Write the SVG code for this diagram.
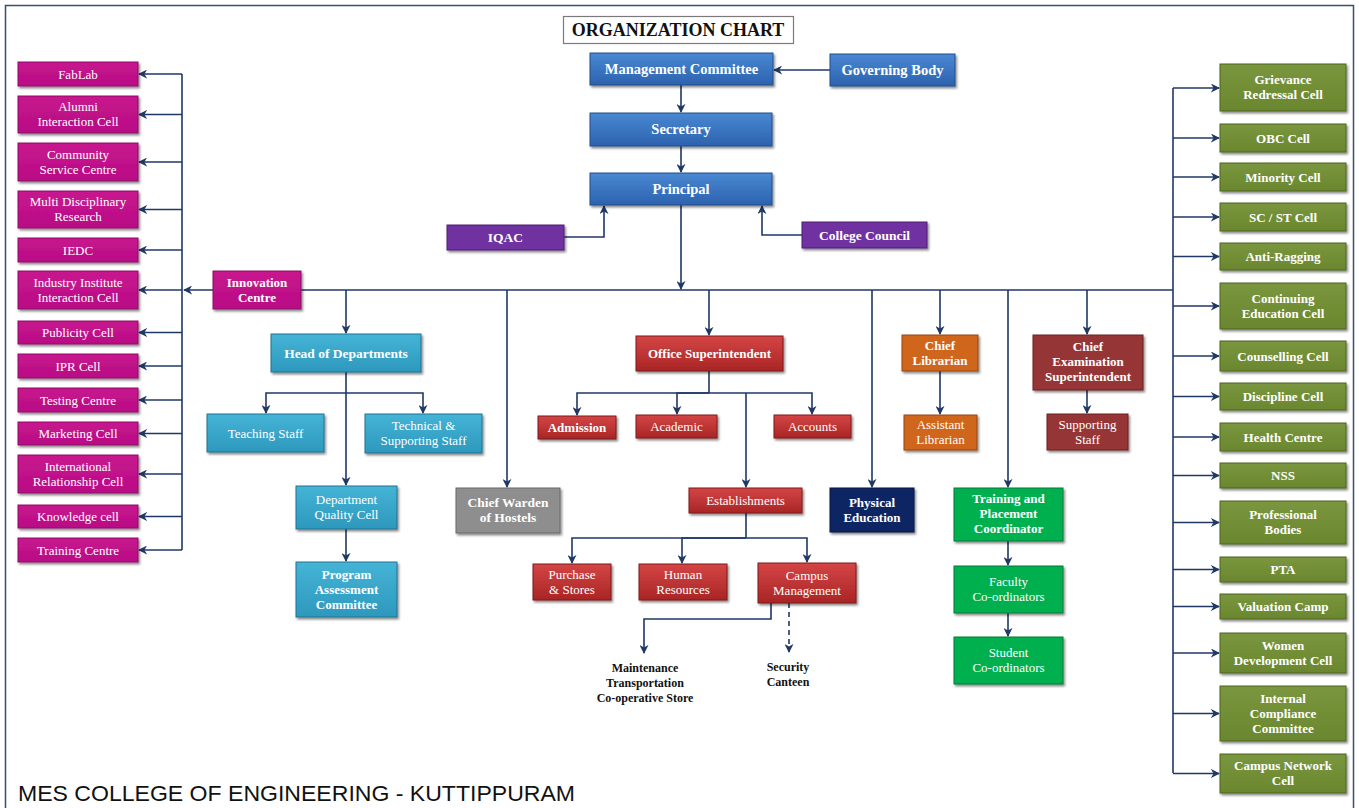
<svg xmlns="http://www.w3.org/2000/svg" width="1359" height="808" viewBox="0 0 1359 808">
<style>
.t{font-family:"Liberation Serif","Times New Roman",serif;fill:#fff;text-anchor:middle;font-size:13px}
.b{font-weight:bold}
.k{fill:#111}
.s13{font-size:13.5px}
.s14{font-size:14.5px}
.s17{font-size:18px}
.s115{font-size:12px}
.c{fill:none;stroke:#1F3864;stroke-width:1.6}
.a{marker-end:url(#ah)}
.d{stroke-dasharray:5,4}
rect.n{filter:url(#sh);stroke-width:1}
.blue{fill:url(#gBlue);stroke:#1E4E8C}
.mag{fill:url(#gMag);stroke:#8E0F66}
.pur{fill:#7030A0;stroke:#4E1E75}
.cyan{fill:url(#gCyan);stroke:#1F7391}
.red{fill:url(#gRed);stroke:#7E1B1B}
.gray{fill:#8E8E8E;stroke:#6A6A6A}
.navy{fill:#0E2564;stroke:#061540}
.orng{fill:#D0651B;stroke:#93460F}
.dred{fill:#963634;stroke:#6A2220}
.grn{fill:#00B050;stroke:#007A37}
.olv{fill:url(#gOlv);stroke:#4D6420}
</style>
<defs>
<filter id="sh" x="-10%" y="-10%" width="130%" height="140%"><feDropShadow dx="1.5" dy="2" stdDeviation="1.2" flood-color="#000" flood-opacity="0.45"/></filter>
<marker id="ah" viewBox="0 0 10 10" refX="9" refY="5" markerWidth="9" markerHeight="9" markerUnits="userSpaceOnUse" orient="auto"><path d="M0,0 L10,5 L0,10 L3,5 z" fill="#1F3864"/></marker>
<linearGradient id="gBlue" x1="0" y1="0" x2="0" y2="1"><stop offset="0" stop-color="#4A88D2"/><stop offset="1" stop-color="#2C62AE"/></linearGradient>
<linearGradient id="gMag" x1="0" y1="0" x2="0" y2="1"><stop offset="0" stop-color="#C8148E"/><stop offset="1" stop-color="#B80F85"/></linearGradient>
<linearGradient id="gCyan" x1="0" y1="0" x2="0" y2="1"><stop offset="0" stop-color="#45B4D6"/><stop offset="1" stop-color="#2D98BD"/></linearGradient>
<linearGradient id="gRed" x1="0" y1="0" x2="0" y2="1"><stop offset="0" stop-color="#D44545"/><stop offset="1" stop-color="#A92525"/></linearGradient>
<linearGradient id="gOlv" x1="0" y1="0" x2="0" y2="1"><stop offset="0" stop-color="#7A963E"/><stop offset="1" stop-color="#6A872F"/></linearGradient>
</defs>
<rect x="0" y="0" width="1359" height="808" fill="#fff"/>
<rect x="5.5" y="5.5" width="1348" height="812" fill="none" stroke="#3A4E6E" stroke-width="1.5"/>

<g id="connectors">
<path class="c a" d="M830,70 H774"/>
<path class="c a" d="M681,85 V112"/>
<path class="c a" d="M681,146 V172"/>
<path class="c a" d="M564,237 H604 V206"/>
<path class="c a" d="M802,235 H762 V206"/>
<path class="c a" d="M681,205 V289"/>
<path class="c a" d="M1173,290 H184"/>
<path class="c" d="M182,74 V550"/>
<path class="c" d="M1173,88 V773"/>
<path class="c a" d="M182,74 H139"/>
<path class="c a" d="M182,114.5 H139"/>
<path class="c a" d="M182,162 H139"/>
<path class="c a" d="M182,209.5 H139"/>
<path class="c a" d="M182,250 H139"/>
<path class="c a" d="M182,290 H139"/>
<path class="c a" d="M182,332.5 H139"/>
<path class="c a" d="M182,366 H139"/>
<path class="c a" d="M182,400 H139"/>
<path class="c a" d="M182,433.5 H139"/>
<path class="c a" d="M182,474 H139"/>
<path class="c a" d="M182,516.5 H139"/>
<path class="c a" d="M182,550 H139"/>
<path class="c a" d="M1173,88 H1219"/>
<path class="c a" d="M1173,138 H1219"/>
<path class="c a" d="M1173,177 H1219"/>
<path class="c a" d="M1173,217 H1219"/>
<path class="c a" d="M1173,256.5 H1219"/>
<path class="c a" d="M1173,306 H1219"/>
<path class="c a" d="M1173,356 H1219"/>
<path class="c a" d="M1173,396.5 H1219"/>
<path class="c a" d="M1173,437 H1219"/>
<path class="c a" d="M1173,475.5 H1219"/>
<path class="c a" d="M1173,522.5 H1219"/>
<path class="c a" d="M1173,569.5 H1219"/>
<path class="c a" d="M1173,606.5 H1219"/>
<path class="c a" d="M1173,653 H1219"/>
<path class="c a" d="M1173,713.5 H1219"/>
<path class="c a" d="M1173,773.5 H1219"/>
<path class="c a" d="M346,290 V333"/>
<path class="c a" d="M507,290 V487"/>
<path class="c a" d="M709,290 V335"/>
<path class="c a" d="M872,290 V487"/>
<path class="c a" d="M940,290 V334"/>
<path class="c a" d="M1008,290 V487"/>
<path class="c a" d="M1087,290 V334"/>
<path class="c a" d="M346,372 V485"/>
<path class="c a" d="M346,393 H266 V413"/>
<path class="c a" d="M346,393 H423 V413"/>
<path class="c a" d="M346,529 V561"/>
<path class="c" d="M709,371 V393"/>
<path class="c a" d="M709,393 H577 V415"/>
<path class="c a" d="M709,393 H677 V414"/>
<path class="c a" d="M709,393 H812 V414"/>
<path class="c a" d="M746,393 V487"/>
<path class="c" d="M746,513 V538"/>
<path class="c a" d="M746,538 H572 V563"/>
<path class="c a" d="M746,538 H682 V563"/>
<path class="c a" d="M746,538 H807 V562"/>
<path class="c a" d="M771,603 V619 H644 V653"/>
<path class="c a d" d="M789,603 V652"/>
<path class="c a" d="M940,371 V414"/>
<path class="c a" d="M1087,390 V413"/>
<path class="c a" d="M1008,541 V565"/>
<path class="c a" d="M1008,613 V636"/>
</g>

<g id="title"><rect x="563.5" y="16.5" width="230" height="27" fill="#fff" stroke="#7A7A7A" stroke-width="1.2"/><text class="t b k s17" x="678" y="36">ORGANIZATION CHART</text></g>

<g id="management"><rect class="n blue" x="590" y="53" width="183" height="32"/><text class="t b s14" x="681.5" y="74">Management Committee</text></g>
<g id="governing"><rect class="n blue" x="830" y="54" width="125" height="32"/><text class="t b s14" x="892.5" y="75">Governing Body</text></g>
<g id="secretary"><rect class="n blue" x="590" y="113" width="182" height="33"/><text class="t b s14" x="681" y="134">Secretary</text></g>
<g id="principal"><rect class="n blue" x="590" y="173" width="182" height="32"/><text class="t b s14" x="681" y="194">Principal</text></g>
<g id="iqac"><rect class="n pur" x="447" y="225" width="117" height="25"/><text class="t b s13" x="505.5" y="242">IQAC</text></g>
<g id="council"><rect class="n pur" x="802" y="222" width="125" height="26"/><text class="t b s13" x="864.5" y="240">College Council</text></g>

<g id="innovation"><rect class="n mag" x="213" y="271" width="88" height="38"/><text class="t b" x="257" y="286.5"><tspan x="257">Innovation</tspan><tspan x="257" y="301.5">Centre</tspan></text></g>

<g id="left-cells">
<g id="fablab"><rect class="n mag" x="18" y="62" width="120" height="24"/><text class="t" x="78" y="78.5">FabLab</text></g>
<g id="alumni"><rect class="n mag" x="18" y="96" width="120" height="37"/><text class="t" x="78" y="111"><tspan x="78">Alumni</tspan><tspan x="78" y="126">Interaction Cell</tspan></text></g>
<g id="community"><rect class="n mag" x="18" y="143" width="120" height="38"/><text class="t" x="78" y="158.5"><tspan x="78">Community</tspan><tspan x="78" y="173.5">Service Centre</tspan></text></g>
<g id="multi"><rect class="n mag" x="18" y="191" width="120" height="37"/><text class="t" x="78" y="206"><tspan x="78">Multi Disciplinary</tspan><tspan x="78" y="221">Research</tspan></text></g>
<g id="iedc"><rect class="n mag" x="18" y="238" width="120" height="24"/><text class="t" x="78" y="254.5">IEDC</text></g>
<g id="industry"><rect class="n mag" x="18" y="271" width="120" height="38"/><text class="t" x="78" y="286.5"><tspan x="78">Industry Institute</tspan><tspan x="78" y="301.5">Interaction Cell</tspan></text></g>
<g id="publicity"><rect class="n mag" x="18" y="321" width="120" height="23"/><text class="t" x="78" y="337">Publicity Cell</text></g>
<g id="ipr"><rect class="n mag" x="18" y="354" width="120" height="24"/><text class="t" x="78" y="370.5">IPR Cell</text></g>
<g id="testing"><rect class="n mag" x="18" y="388" width="120" height="24"/><text class="t" x="78" y="404.5">Testing Centre</text></g>
<g id="marketing"><rect class="n mag" x="18" y="422" width="120" height="23"/><text class="t" x="78" y="438">Marketing Cell</text></g>
<g id="international"><rect class="n mag" x="18" y="455" width="120" height="38"/><text class="t" x="78" y="470.5"><tspan x="78">International</tspan><tspan x="78" y="485.5">Relationship Cell</tspan></text></g>
<g id="knowledge"><rect class="n mag" x="18" y="505" width="120" height="23"/><text class="t" x="78" y="521">Knowledge cell</text></g>
<g id="trainingcentre"><rect class="n mag" x="18" y="538" width="120" height="24"/><text class="t" x="78" y="554.5">Training Centre</text></g>
</g>

<g id="hod"><rect class="n cyan" x="271" y="334" width="150" height="38"/><text class="t b s13" x="346" y="357.5">Head of  Departments</text></g>
<g id="teaching"><rect class="n cyan" x="207" y="414" width="117" height="38"/><text class="t" x="265.5" y="437.5">Teaching Staff</text></g>
<g id="technical"><rect class="n cyan" x="365" y="414" width="117" height="39"/><text class="t" x="423.5" y="430"><tspan x="423.5">Technical &amp;</tspan><tspan x="423.5" y="445">Supporting Staff</tspan></text></g>
<g id="dqc"><rect class="n cyan" x="296" y="486" width="101" height="43"/><text class="t" x="346.5" y="504"><tspan x="346.5">Department</tspan><tspan x="346.5" y="519">Quality Cell</tspan></text></g>
<g id="pac"><rect class="n cyan" x="296" y="562" width="101" height="55"/><text class="t b" x="346.5" y="578.5"><tspan x="346.5">Program</tspan><tspan x="346.5" y="593.5">Assessment</tspan><tspan x="346.5" y="608.5">Committee</tspan></text></g>

<g id="warden"><rect class="n gray" x="456" y="488" width="104" height="45"/><text class="t b s13" x="508" y="507"><tspan x="508">Chief  Warden</tspan><tspan x="508" y="522">of Hostels</tspan></text></g>

<g id="office"><rect class="n red" x="636" y="336" width="147" height="35"/><text class="t b" x="709.5" y="358">Office Superintendent</text></g>
<g id="admission"><rect class="n red" x="538" y="416" width="78" height="23"/><text class="t b" x="577" y="432">Admission</text></g>
<g id="academic"><rect class="n red" x="636" y="415" width="81" height="23"/><text class="t" x="676.5" y="431">Academic</text></g>
<g id="accounts"><rect class="n red" x="774" y="415" width="77" height="23"/><text class="t" x="812.5" y="431">Accounts</text></g>
<g id="establishments"><rect class="n red" x="689" y="488" width="113" height="25"/><text class="t" x="745.5" y="505">Establishments</text></g>
<g id="purchase"><rect class="n red" x="533" y="564" width="78" height="36"/><text class="t" x="572" y="578.5"><tspan x="572">Purchase</tspan><tspan x="572" y="593.5">&amp; Stores</tspan></text></g>
<g id="hr"><rect class="n red" x="639" y="564" width="88" height="36"/><text class="t" x="683" y="578.5"><tspan x="683">Human</tspan><tspan x="683" y="593.5">Resources</tspan></text></g>
<g id="campus"><rect class="n red" x="758" y="563" width="98" height="40"/><text class="t" x="807" y="579.5"><tspan x="807">Campus</tspan><tspan x="807" y="594.5">Management</tspan></text></g>
<g id="maintenance"><text class="t b k s115" x="645" y="672"><tspan x="645">Maintenance</tspan><tspan x="645" y="687">Transportation</tspan><tspan x="645" y="702">Co-operative Store</tspan></text></g>
<g id="security"><text class="t b k s115" x="788" y="671"><tspan x="788">Security</tspan><tspan x="788" y="686">Canteen</tspan></text></g>

<g id="physical"><rect class="n navy" x="830" y="488" width="84" height="44"/><text class="t b" x="872" y="506.5"><tspan x="872">Physical</tspan><tspan x="872" y="521.5">Education</tspan></text></g>
<g id="chieflib"><rect class="n orng" x="902" y="335" width="76" height="36"/><text class="t b" x="940" y="349.5"><tspan x="940">Chief</tspan><tspan x="940" y="364.5">Librarian</tspan></text></g>
<g id="asstlib"><rect class="n orng" x="904" y="415" width="73" height="35"/><text class="t" x="940.5" y="429"><tspan x="940.5">Assistant</tspan><tspan x="940.5" y="444">Librarian</tspan></text></g>
<g id="training"><rect class="n grn" x="954" y="488" width="109" height="53"/><text class="t b" x="1008.5" y="503"><tspan x="1008.5">Training and</tspan><tspan x="1008.5" y="518">Placement</tspan><tspan x="1008.5" y="533">Coordinator</tspan></text></g>
<g id="faculty"><rect class="n grn" x="954" y="566" width="109" height="47"/><text class="t" x="1008.5" y="586"><tspan x="1008.5">Faculty</tspan><tspan x="1008.5" y="601">Co-ordinators</tspan></text></g>
<g id="student"><rect class="n grn" x="954" y="637" width="109" height="47"/><text class="t" x="1008.5" y="657"><tspan x="1008.5">Student</tspan><tspan x="1008.5" y="672">Co-ordinators</tspan></text></g>
<g id="chiefexam"><rect class="n dred" x="1033" y="335" width="110" height="55"/><text class="t b" x="1088" y="351"><tspan x="1088">Chief</tspan><tspan x="1088" y="366">Examination</tspan><tspan x="1088" y="381">Superintendent</tspan></text></g>
<g id="supporting"><rect class="n dred" x="1047" y="414" width="81" height="36"/><text class="t" x="1087.5" y="428.5"><tspan x="1087.5">Supporting</tspan><tspan x="1087.5" y="443.5">Staff</tspan></text></g>

<g id="right-cells">
<g id="grievance"><rect class="n olv" x="1220" y="64" width="126" height="47"/><text class="t b" x="1283" y="84"><tspan x="1283">Grievance</tspan><tspan x="1283" y="99">Redressal Cell</tspan></text></g>
<g id="obc"><rect class="n olv" x="1220" y="124" width="126" height="28"/><text class="t b" x="1283" y="142.5">OBC Cell</text></g>
<g id="minority"><rect class="n olv" x="1220" y="163" width="126" height="28"/><text class="t b" x="1283" y="181.5">Minority Cell</text></g>
<g id="scst"><rect class="n olv" x="1220" y="203" width="126" height="28"/><text class="t b" x="1283" y="221.5">SC / ST Cell</text></g>
<g id="antiragging"><rect class="n olv" x="1220" y="243" width="126" height="27"/><text class="t b" x="1283" y="261">Anti-Ragging</text></g>
<g id="continuing"><rect class="n olv" x="1220" y="283" width="126" height="46"/><text class="t b" x="1283" y="302.5"><tspan x="1283">Continuing</tspan><tspan x="1283" y="317.5">Education Cell</tspan></text></g>
<g id="counselling"><rect class="n olv" x="1220" y="341" width="126" height="30"/><text class="t b" x="1283" y="360.5">Counselling Cell</text></g>
<g id="discipline"><rect class="n olv" x="1220" y="383" width="126" height="27"/><text class="t b" x="1283" y="401">Discipline Cell</text></g>
<g id="health"><rect class="n olv" x="1220" y="423" width="126" height="28"/><text class="t b" x="1283" y="441.5">Health Centre</text></g>
<g id="nss"><rect class="n olv" x="1220" y="463" width="126" height="25"/><text class="t b" x="1283" y="480">NSS</text></g>
<g id="professional"><rect class="n olv" x="1220" y="501" width="126" height="43"/><text class="t b" x="1283" y="519"><tspan x="1283">Professional</tspan><tspan x="1283" y="534">Bodies</tspan></text></g>
<g id="pta"><rect class="n olv" x="1220" y="557" width="126" height="25"/><text class="t b" x="1283" y="574">PTA</text></g>
<g id="valuation"><rect class="n olv" x="1220" y="594" width="126" height="25"/><text class="t b" x="1283" y="611">Valuation Camp</text></g>
<g id="women"><rect class="n olv" x="1220" y="633" width="126" height="40"/><text class="t b" x="1283" y="649.5"><tspan x="1283">Women</tspan><tspan x="1283" y="664.5">Development Cell</tspan></text></g>
<g id="internal"><rect class="n olv" x="1220" y="686" width="126" height="55"/><text class="t b" x="1283" y="702.5"><tspan x="1283">Internal</tspan><tspan x="1283" y="717.5">Compliance</tspan><tspan x="1283" y="732.5">Committee</tspan></text></g>
<g id="campusnet"><rect class="n olv" x="1220" y="754" width="126" height="39"/><text class="t b" x="1283" y="770"><tspan x="1283">Campus Network</tspan><tspan x="1283" y="785">Cell</tspan></text></g>
</g>

<text x="18" y="801" font-family="'Liberation Sans Narrow','Liberation Sans',Arial,sans-serif" font-size="22" fill="#111" textLength="557" lengthAdjust="spacingAndGlyphs">MES COLLEGE OF ENGINEERING - KUTTIPPURAM</text>
</svg>
